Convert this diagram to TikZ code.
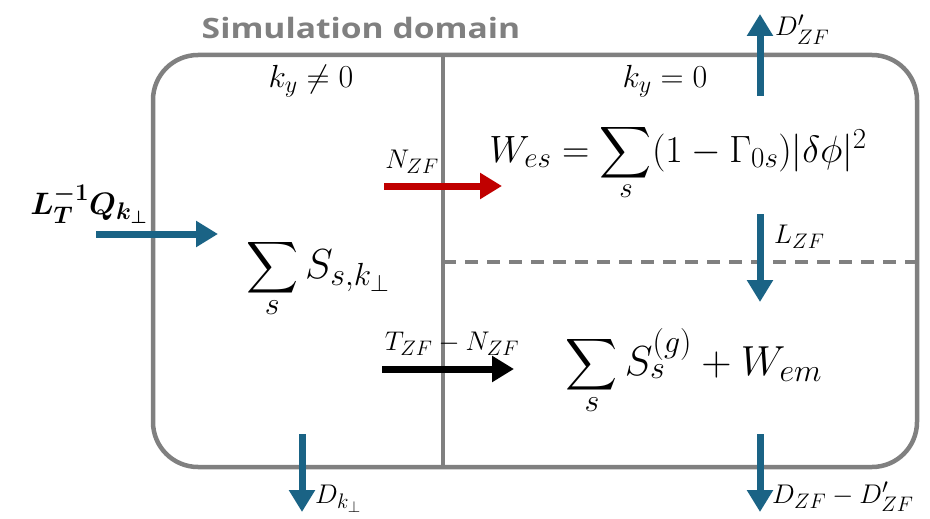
\RequirePackage{fix-cm}
\documentclass[tikz,border=0pt]{standalone}
\usepackage{amsmath}
\usepackage{bm}
\usepackage{graphicx}
\usepackage{fontspec}
\newfontfamily\titlefont{Open Sans}
\usetikzlibrary{arrows.meta}
\DeclareMathSizes{38}{38}{29}{22}
\DeclareMathSizes{42}{42}{32}{24}
\DeclareMathSizes{27}{27}{21}{16}
\DeclareMathSizes{31}{31}{24}{18}
\DeclareMathSizes{32}{32}{24}{18}
\definecolor{boxgray}{HTML}{808080}
\definecolor{flowblue}{HTML}{1A6385}
\definecolor{flowred}{HTML}{C00000}
\newcommand{\Bsum}{\mathop{\vcenter{\hbox{\scalebox{1.45}{$\displaystyle\sum$}}}}\limits}
\tikzset{
  boxline/.style={draw=boxgray, line width=4.5pt},
  flow/.style={line width=7pt, -{Triangle[length=22pt,width=25pt]}},
  bigeq/.style={inner sep=0pt, font=\fontsize{38}{42}\selectfont},
  bigereq/.style={inner sep=0pt, font=\fontsize{42}{46}\selectfont},
  lab/.style={inner sep=0pt, font=\fontsize{27}{32}\selectfont},
  kylab/.style={inner sep=0pt, font=\fontsize{32}{36}\selectfont},
}
\begin{document}
\begin{tikzpicture}[x=1pt,y=-1pt]
\useasboundingbox (0,0) rectangle (930,519);
% domain box
\draw[boxline, rounded corners=45pt] (153,55) rectangle (917,467);
\coordinate (divtop) at (443,55);
\coordinate (divbot) at (443,467);
\draw[boxline] (divtop) -- (divbot);
\coordinate (dashl) at (443,262);
\coordinate (dashr) at (917,262);
\draw[boxline, dash pattern=on 13pt off 9pt] (dashl) -- (dashr);
% title
\node[inner sep=0pt, text=boxgray, font=\titlefont\bfseries\fontsize{28}{30}\selectfont] (title) at (361,28) {\scalebox{1.2}[1]{Simulation domain}};
% region labels
\node[kylab, anchor=base] (kyn) at (311,88) {$k_y \neq 0$};
\node[kylab, anchor=base] (kyz) at (665,88) {$k_y = 0$};
% equations
\node[bigeq, anchor=base] (wes) at (678,162) {$W_{es} = \Bsum_s (1-\Gamma_{0s})|\delta\phi|^2$};
\node[bigereq, anchor=base] (ssk) at (318,278) {$\Bsum_s S_{s,k_\perp}$};
\node[bigereq, anchor=base] (ssg) at (694,375) {$\Bsum_s S_s^{(g)} + W_{em}$};
% input on left
\node[lab, anchor=base, font=\fontsize{31}{34}\selectfont] (lq) at (89,214) {$\bm{L_T^{-1}Q_{k_\perp}}$};
\coordinate (qa) at (96,234);
\coordinate (qb) at (218,234);
\draw[flow, flowblue] (qa) -- (qb);
% N_ZF red
\node[lab, anchor=base] (nzf) at (412,168) {$N_{ZF}$};
\coordinate (na) at (384,186);
\coordinate (nb) at (502,186);
\draw[flow, flowred] (na) -- (nb);
% T_ZF - N_ZF black
\node[lab, anchor=base] (tnzf) at (452,350) {$T_{ZF} - N_{ZF}$};
\coordinate (ta) at (382,369);
\coordinate (tb) at (514,369);
\draw[flow, black] (ta) -- (tb);
% L_ZF
\coordinate (la) at (760,214);
\coordinate (lb) at (760,302);
\draw[flow, flowblue] (la) -- (lb);
\node[lab, anchor=base west] (lzf) at (774,243) {$L_{ZF}$};
% D'_ZF up
\coordinate (da) at (760,96);
\coordinate (db) at (760,14);
\draw[flow, flowblue] (da) -- (db);
\node[lab, anchor=base west] (dpzf) at (775,36) {$D'_{ZF}$};
% D_k down
\coordinate (dka) at (302,434);
\coordinate (dkb) at (302,512);
\draw[flow, flowblue] (dka) -- (dkb);
\node[lab, anchor=base west] (dk) at (315,503) {$D_{k_\perp}$};
% D_ZF - D'_ZF down
\coordinate (dza) at (760,434);
\coordinate (dzb) at (760,512);
\draw[flow, flowblue] (dza) -- (dzb);
\node[lab, anchor=base west] (dz) at (772,503) {$D_{ZF} - D'_{ZF}$};
\end{tikzpicture}
\end{document}
